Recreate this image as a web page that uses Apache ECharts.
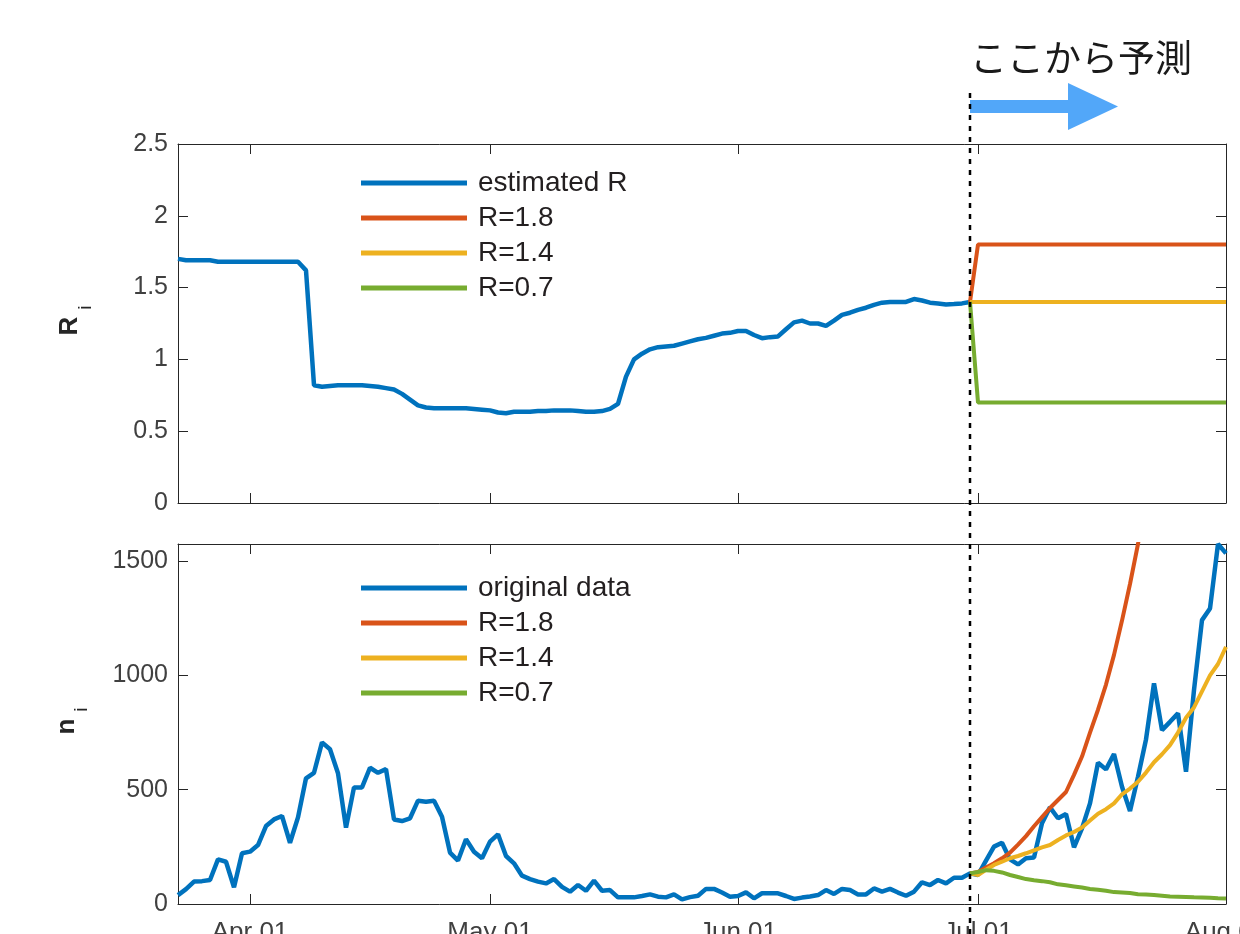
<!DOCTYPE html>
<html>
<head>
<meta charset="utf-8">
<title>R and n forecast</title>
<script src="https://cdn.jsdelivr.net/npm/echarts@6/dist/echarts.min.js"></script>
<style>
  html, body { margin: 0; padding: 0; background: #fff; }
  #chart { width: 1240px; height: 934px; }
</style>
</head>
<body>
<div id="chart"></div>
<script>
// daily categories, Mar 23 .. Aug 01
var MONTHS = ['Jan', 'Feb', 'Mar', 'Apr', 'May', 'Jun', 'Jul', 'Aug', 'Sep', 'Oct', 'Nov', 'Dec'];
var startDay = [2020, 2, 23];
var dayCount = 132;
var categories = [];
for (let d = 0; d < dayCount; d++) {
    let t = new Date(Date.UTC(startDay[0], startDay[1], startDay[2] + d));
    categories.push(MONTHS[t.getUTCMonth()] + ' ' + String(t.getUTCDate()).padStart(2, '0'));
}
var predStartDay = 'Jun 30';

// effective reproduction number, Mar 23 .. Jun 30
var rEstimated = [
    1.70, 1.69, 1.69, 1.69, 1.69, 1.68, 1.68, 1.68, 1.68, 1.68,
    1.68, 1.68, 1.68, 1.68, 1.68, 1.68, 1.62, 0.82, 0.81, 0.815,
    0.82, 0.82, 0.82, 0.82, 0.815, 0.81, 0.80, 0.79, 0.76, 0.72,
    0.68, 0.665, 0.66, 0.66, 0.66, 0.66, 0.66, 0.655, 0.65, 0.645,
    0.63, 0.625, 0.635, 0.635, 0.635, 0.64, 0.64, 0.645, 0.645, 0.645,
    0.64, 0.635, 0.635, 0.64, 0.655, 0.69, 0.88, 1.0, 1.04, 1.07,
    1.085, 1.09, 1.095, 1.11, 1.125, 1.14, 1.15, 1.165, 1.18, 1.185,
    1.198, 1.198, 1.17, 1.148, 1.155, 1.16, 1.21, 1.258, 1.27, 1.25,
    1.25, 1.233, 1.27, 1.31, 1.325, 1.345, 1.36, 1.38, 1.395, 1.40,
    1.40, 1.40, 1.42, 1.41, 1.395, 1.39, 1.383, 1.385, 1.39, 1.40
];
// scenario R, Jun 30 .. Aug 01
var rScen18 = [1.4, 1.8, 1.8, 1.8, 1.8, 1.8, 1.8, 1.8, 1.8, 1.8, 1.8, 1.8, 1.8, 1.8, 1.8, 1.8, 1.8,
    1.8, 1.8, 1.8, 1.8, 1.8, 1.8, 1.8, 1.8, 1.8, 1.8, 1.8, 1.8, 1.8, 1.8, 1.8, 1.8];
var rScen14 = [1.4, 1.4, 1.4, 1.4, 1.4, 1.4, 1.4, 1.4, 1.4, 1.4, 1.4, 1.4, 1.4, 1.4, 1.4, 1.4, 1.4,
    1.4, 1.4, 1.4, 1.4, 1.4, 1.4, 1.4, 1.4, 1.4, 1.4, 1.4, 1.4, 1.4, 1.4, 1.4, 1.4];
var rScen07 = [1.4, 0.7, 0.7, 0.7, 0.7, 0.7, 0.7, 0.7, 0.7, 0.7, 0.7, 0.7, 0.7, 0.7, 0.7, 0.7, 0.7,
    0.7, 0.7, 0.7, 0.7, 0.7, 0.7, 0.7, 0.7, 0.7, 0.7, 0.7, 0.7, 0.7, 0.7, 0.7, 0.7];

// daily new cases, Mar 23 .. Aug 01
var nOriginal = [
    39, 65, 98, 100, 105, 195, 185, 73, 222, 229,
    258, 341, 370, 385, 268, 379, 550, 574, 707, 677,
    572, 334, 510, 510, 596, 574, 590, 370, 363, 375,
    452, 447, 452, 382, 225, 190, 283, 229, 200, 273,
    305, 210, 178, 124, 109, 98, 90, 109, 75, 54,
    83, 58, 102, 58, 61, 29, 29, 29, 35, 42,
    32, 29, 42, 20, 30, 36, 66, 66, 50, 32,
    35, 51, 25, 47, 47, 47, 35, 22, 28, 33,
    39, 61, 44, 66, 61, 42, 42, 68, 54, 66,
    50, 36, 54, 95, 83, 105, 90, 115, 115, 134,
    127, 190, 251, 268, 195, 173, 200, 203, 353, 423,
    375, 394, 248, 331, 440, 618, 589, 656, 513, 407,
    557, 720, 965, 761, 797, 834, 579, 936, 1242, 1293,
    1575, 1534
];
// simulated cases, Jun 30 ..
var nScen18 = [134, 140, 160, 178, 200, 225, 260, 297, 340, 380, 420, 455, 490, 565, 645, 750,
    850, 960, 1090, 1240, 1400, 1575, 1780];
var nScen14 = [134, 127, 150, 171, 185, 200, 210, 222, 235, 248, 258, 280, 300, 315, 335, 365,
    395, 415, 440, 480, 505, 535, 575, 620, 655, 695, 750, 815, 860, 930, 1000, 1050, 1125];
var nScen07 = [134, 140, 148, 145, 138, 127, 118, 109, 104, 100, 95, 86, 82, 77, 72, 66,
    62, 58, 52, 50, 48, 43, 42, 39, 36, 33, 32, 31, 29, 28, 27, 25, 24];

var C_BLUE = '#0072BD', C_RED = '#D95319', C_YEL = '#EDB120', C_GRN = '#77AC30';
var AX = '#262626';
var FONT = '"Liberation Sans", Arial, Helvetica, sans-serif';

var predStart = categories.indexOf(predStartDay);
var fromPred = (arr) => arr.map((v, i) => [predStart + i, v]);
var monthStart = (idx, val) => val.slice(-2) === '01';

var catAxis = (grid, pos, labels) => ({
    type: 'category',
    gridIndex: grid,
    position: pos,
    data: categories,
    boundaryGap: false,
    axisLine: { show: true, onZero: false, lineStyle: { color: AX, width: 1 } },
    axisTick: { show: true, inside: true, length: 10, interval: monthStart, lineStyle: { color: AX } },
    axisLabel: {
        show: labels, interval: monthStart, margin: 16,
        fontSize: 26, color: '#404040', fontFamily: FONT
    },
    splitLine: { show: false }
});

var valAxis = (grid, pos, min, max, step, name) => ({
    type: 'value',
    gridIndex: grid,
    position: pos,
    min: min, max: max, interval: step,
    name: name,
    nameLocation: 'middle',
    nameRotate: 90,
    nameGap: 73,
    nameTextStyle: {
        fontFamily: FONT,
        color: AX,
        padding: [0, 0, 0, 6],
        rich: {
            b: { fontSize: 26, fontWeight: 'bold', fontFamily: FONT, color: AX, lineHeight: 48, verticalAlign: 'top' },
            s: { fontSize: 19, fontFamily: FONT, color: AX, lineHeight: 19, verticalAlign: 'bottom', padding: [0, 0, 10, 7] }
        }
    },
    axisLine: { show: true, onZero: false, lineStyle: { color: AX, width: 1 } },
    axisTick: { show: true, inside: true, length: 10, lineStyle: { color: AX } },
    axisLabel: {
        show: pos === 'left', margin: 10, showMaxLabel: max === 2.5,
        formatter: (v) => String(v),
        fontSize: 25, color: '#404040', fontFamily: FONT
    },
    splitLine: { show: false }
});

var line = (name, x, y, data, color, w) => ({
    name: name, type: 'line', xAxisIndex: x, yAxisIndex: y, data: data,
    symbol: 'none', silent: true,
    lineStyle: { color: color, width: w }, itemStyle: { color: color }
});

var legendBase = {
    orient: 'vertical', left: 356, icon: 'rect',
    itemWidth: 106, itemHeight: 5, itemGap: 7, selectedMode: false,
    textStyle: { fontSize: 28, lineHeight: 26, color: '#231f20', fontFamily: FONT, padding: [0, 0, 0, 6] }
};

var chart = echarts.init(document.getElementById('chart'));
chart.setOption({
    animation: false,
    backgroundColor: '#fff',
    title: {
        text: 'ここから予測', left: 965, top: 34,
        textStyle: { fontSize: 37, fontWeight: 'normal', color: '#1a1a1a', fontFamily: '"Noto Sans CJK JP", sans-serif' }
    },
    legend: [
        Object.assign({}, legendBase, { top: 164, data: ['estimated R', 'R=1.8', 'R=1.4', 'R=0.7'] }),
        Object.assign({}, legendBase, { top: 569, data: ['original data', 'R=1.8', 'R=1.4', 'R=0.7'] })
    ],
    grid: [
        { left: 178, right: 14, top: 144, height: 359, outerBoundsMode: 'none' },
        { left: 178, right: 14, top: 544, height: 360, outerBoundsMode: 'none' }
    ],
    xAxis: [
        catAxis(0, 'bottom', false),
        catAxis(0, 'top', false),
        catAxis(1, 'bottom', true),
        catAxis(1, 'top', false)
    ],
    yAxis: [
        valAxis(0, 'left', 0, 2.5, 0.5, '{b|R}{s|i}'),
        valAxis(0, 'right', 0, 2.5, 0.5, ''),
        valAxis(1, 'left', 0, 1575, 500, '{b|n}{s|i}'),
        valAxis(1, 'right', 0, 1575, 500, '')
    ],
    series: [
        line('estimated R', 0, 0, rEstimated, C_BLUE, 4.5),
        line('R=1.8', 0, 0, fromPred(rScen18), C_RED, 4),
        line('R=1.4', 0, 0, fromPred(rScen14), C_YEL, 4),
        line('R=0.7', 0, 0, fromPred(rScen07), C_GRN, 4),
        line('original data', 2, 2, nOriginal, C_BLUE, 4.5),
        line('R=1.8', 2, 2, fromPred(nScen18), C_RED, 4),
        line('R=1.4', 2, 2, fromPred(nScen14), C_YEL, 4),
        line('R=0.7', 2, 2, fromPred(nScen07), C_GRN, 4)
    ]
});

// prediction marker: dotted line through both panels and the arrow
var xPred = chart.convertToPixel({ xAxisIndex: 0 }, predStart);
chart.setOption({
    graphic: [
        {
            type: 'line', z: 100,
            shape: { x1: xPred, y1: 93, x2: xPred, y2: 934 },
            style: { stroke: '#000', lineWidth: 2.5, lineDash: [5, 6] }
        },
        {
            type: 'rect', z: 90,
            shape: { x: xPred, y: 100, width: 100, height: 13 },
            style: { fill: '#52A7F9' }
        },
        {
            type: 'polygon', z: 90,
            shape: { points: [[xPred + 98, 83], [xPred + 148, 106.5], [xPred + 98, 130]] },
            style: { fill: '#52A7F9' }
        }
    ]
});
</script>
</body>
</html>
